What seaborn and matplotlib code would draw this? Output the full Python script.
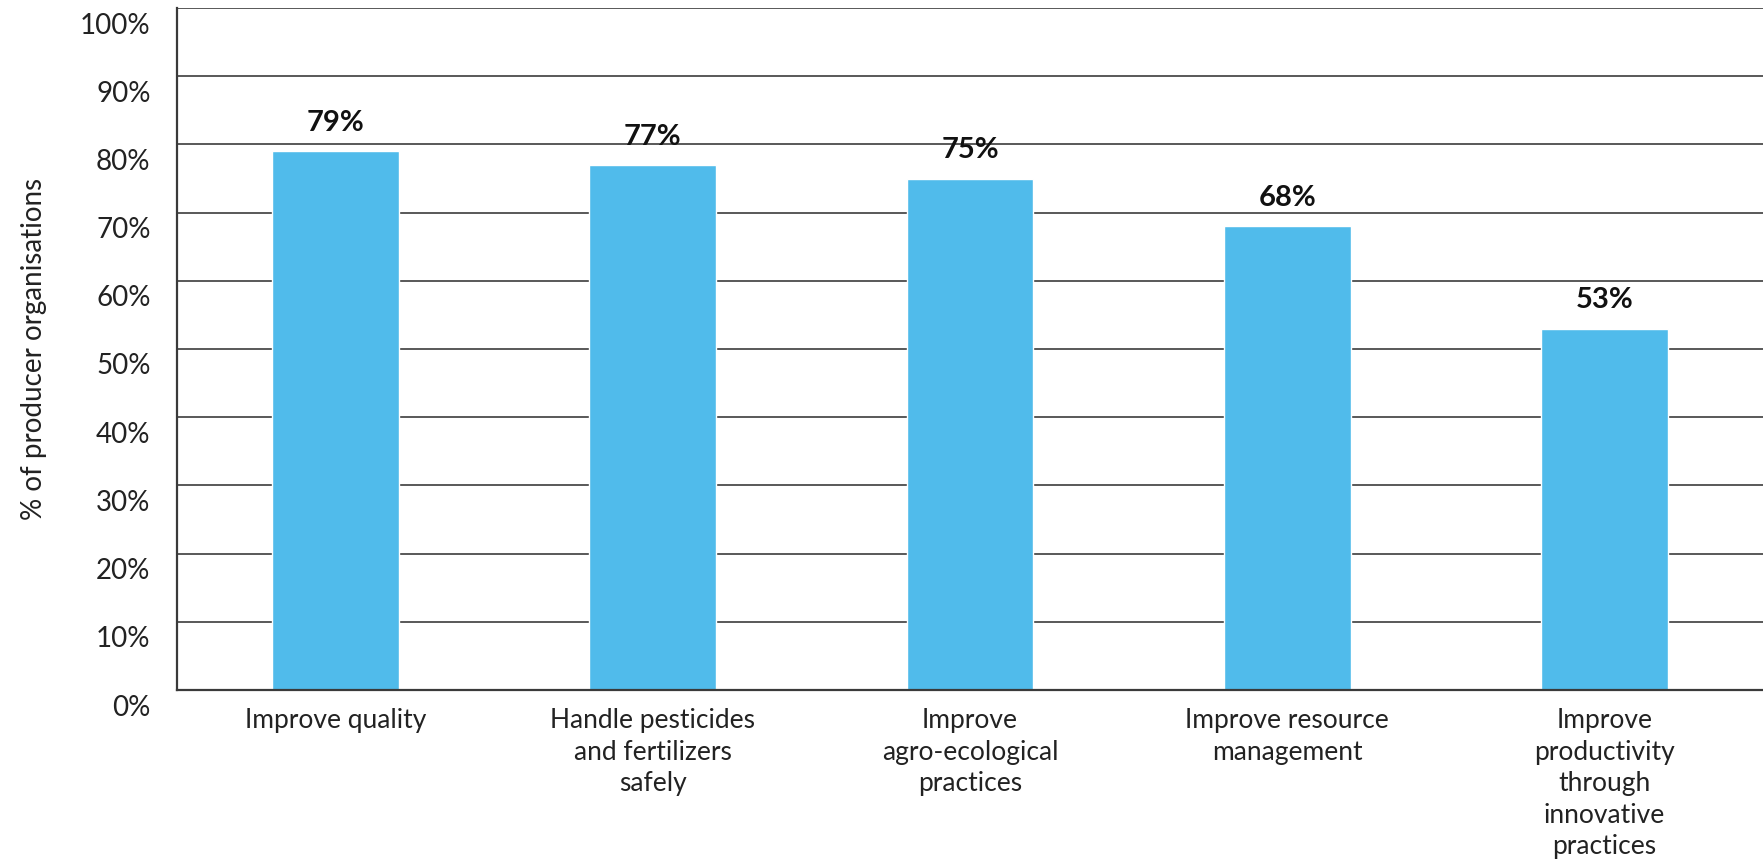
import matplotlib
matplotlib.use("Agg")
import matplotlib.pyplot as plt
import matplotlib.transforms as mtransforms
from matplotlib.ticker import FuncFormatter, MultipleLocator
import seaborn as sns
import pandas as pd

categories = [
    "Improve quality",
    "Handle pesticides\nand fertilizers\nsafely",
    "Improve\nagro-ecological\npractices",
    "Improve resource\nmanagement",
    "Improve\nproductivity\nthrough\ninnovative\npractices",
]
shares = [79, 77, 75, 68, 53]
value_labels = ["79%", "77%", "75%", "68%", "53%"]
y_title = "% of producer organisations"

sns.set_theme(style="white")
plt.rcParams["font.family"] = ["Lato", "DejaVu Sans"]

W, H, DPI = 1763, 860, 100
fig = plt.figure(figsize=(W / DPI, H / DPI), dpi=DPI)
ax = fig.add_axes([177 / W, (H - 690) / H, (W - 177) / W, (690 - 8) / H])

df = pd.DataFrame({"category": categories, "share": shares})
sns.barplot(data=df, x="category", y="share", color="#50BBEB", saturation=1,
            width=0.4, ax=ax, zorder=3)

ax.set_ylim(0, 100)
ax.set_xlim(-0.5, 4.5)
ax.yaxis.set_major_locator(MultipleLocator(10))
ax.yaxis.set_major_formatter(FuncFormatter(lambda v, _: f"{v:.0f}%"))
ax.grid(axis="y", color="#2b2b2b", linewidth=1.1, zorder=0)
ax.set_axisbelow(True)

for side in ("top", "right"):
    ax.spines[side].set_visible(False)
for side in ("left", "bottom"):
    ax.spines[side].set_color("#3a3a3a")
    ax.spines[side].set_linewidth(1.6)
    ax.spines[side].set_zorder(4)

ax.tick_params(axis="y", length=0, pad=19, labelsize=20, labelcolor="#222222")
ax.tick_params(axis="x", length=0, pad=13, labelsize=19, labelcolor="#222222")
ax.set_xticks(range(len(categories)))
ax.set_xticklabels(categories, linespacing=1.33, va="top", ha="center")

shift = mtransforms.ScaledTranslation(0, -15 / DPI, fig.dpi_scale_trans)
for lbl in ax.get_yticklabels():
    lbl.set_transform(lbl.get_transform() + shift)

ax.set_xlabel("")
ax.set_ylabel(y_title, fontsize=20, color="#222222", labelpad=24)

ax.bar_label(ax.containers[0], labels=value_labels, padding=11,
             fontsize=21, fontweight="bold", color="#111111")

fig.savefig("out.png", dpi=DPI)
